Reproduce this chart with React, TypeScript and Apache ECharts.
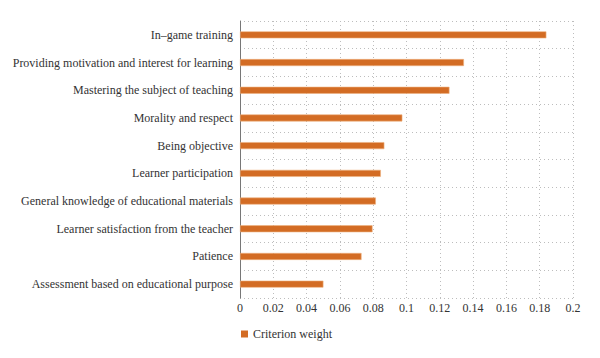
import React, { useEffect, useRef } from "react";
import * as echarts from "echarts";

const categories = [
  "In\u2013game training",
  "Providing motivation and interest for learning",
  "Mastering the subject of teaching",
  "Morality and respect",
  "Being objective",
  "Learner participation",
  "General knowledge of educational materials",
  "Learner satisfaction from the teacher",
  "Patience",
  "Assessment based on educational purpose",
];
const criterionWeight = [0.184, 0.1345, 0.1258, 0.0975, 0.0867, 0.0846, 0.0816, 0.0796, 0.073, 0.0501];
const xTicks = { min: 0, max: 0.2, interval: 0.02 };
const seriesName = "Criterion weight";

const FONT = "Liberation Serif";

export default function App() {
  const ref = useRef<HTMLDivElement>(null);
  useEffect(() => {
    const chart = echarts.init(ref.current!, null, { renderer: "svg" });
    chart.setOption({
      animation: false,
      backgroundColor: "#ffffff",
      textStyle: { fontFamily: FONT },
      grid: { left: 240, right: 27, top: 21, bottom: 60, containLabel: false, outerBoundsMode: "none" },
      legend: {
        data: [seriesName],
        left: 236,
        top: 323,
        icon: "rect",
        itemWidth: 7,
        itemHeight: 7,
        itemGap: 10,
        itemStyle: { borderWidth: 0 },
        textStyle: { fontFamily: FONT, fontSize: 12, color: "#333" },
      },
      xAxis: {
        type: "value",
        min: xTicks.min,
        max: xTicks.max,
        interval: xTicks.interval,
        axisLine: { show: false },
        axisTick: { show: false },
        axisLabel: {
          fontFamily: FONT,
          fontSize: 12,
          color: "#333",
          margin: 4,
          formatter: (v: number) => String(parseFloat(v.toFixed(2))),
        },
        splitLine: { show: true, lineStyle: { type: [1, 3], color: "#bdbdbd", width: 1 } },
      },
      yAxis: {
        type: "category",
        data: categories,
        inverse: true,
        axisLine: { show: true, lineStyle: { color: "#777", width: 1 } },
        axisTick: { show: false },
        axisLabel: { fontFamily: FONT, fontSize: 12, color: "#333", margin: 7 },
        splitLine: { show: true, lineStyle: { type: [1, 3], color: "#bdbdbd", width: 1 } },
      },
      series: [
        {
          name: seriesName,
          type: "bar",
          data: criterionWeight,
          barWidth: 7,
          itemStyle: { color: "#d36c24", borderColor: "#efb27f", borderWidth: 0.6 },
        },
      ],
    });
    return () => chart.dispose();
  }, []);
  return <div ref={ref} style={{ position: "fixed", left: 0, top: 0, width: 600, height: 358 }} />;
}
